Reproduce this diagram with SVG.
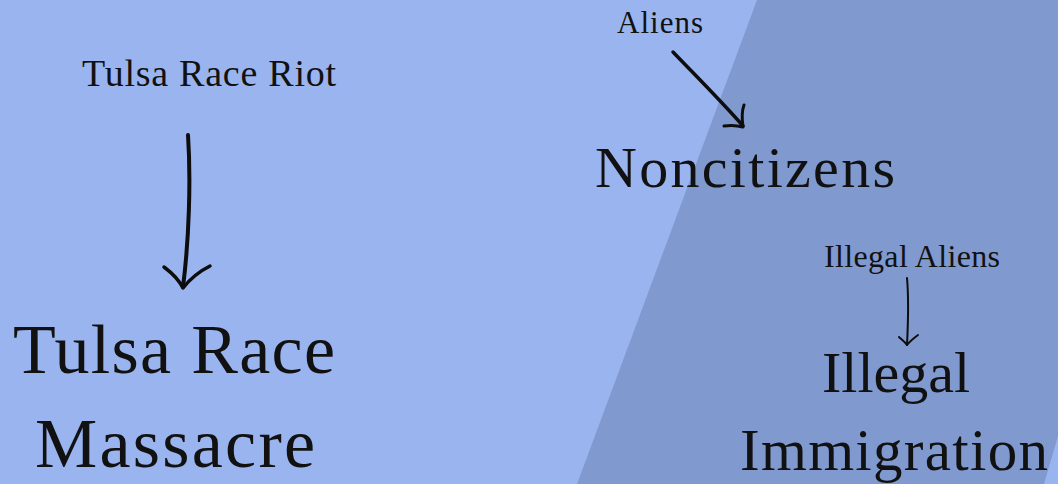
<svg xmlns="http://www.w3.org/2000/svg" width="1058" height="484" viewBox="0 0 1058 484">
  <style>
    .t { font-family: "Liberation Serif", "DejaVu Serif", serif; fill: #111; }
    .arrow { fill: none; stroke: #0d0d0d; stroke-linecap: round; stroke-linejoin: round; }
  </style>
  <rect x="0" y="0" width="1058" height="484" fill="#9ab4f0"/>
  <polygon points="757,0 1058,0 1058,436 1044,484 577,484" fill="#8099cf"/>

  <g id="node-tulsa-riot">
    <text class="t" x="82" y="86" font-size="38" textLength="254">Tulsa Race Riot</text>
  </g>
  <g id="node-tulsa-massacre">
    <text class="t" x="13" y="373" font-size="70" textLength="322">Tulsa Race</text>
    <text class="t" x="35" y="467" font-size="70" textLength="280">Massacre</text>
  </g>
  <g id="node-aliens">
    <text class="t" x="617" y="33" font-size="31" textLength="86">Aliens</text>
  </g>
  <g id="node-noncitizens">
    <text class="t" x="595" y="187" font-size="58" textLength="300">Noncitizens</text>
  </g>
  <g id="node-illegal-aliens">
    <text class="t" x="824" y="267" font-size="32" textLength="176">Illegal Aliens</text>
  </g>
  <g id="node-illegal-immigration">
    <text class="t" x="822" y="392" font-size="58" textLength="148">Illegal</text>
    <text class="t" x="740" y="470" font-size="59" textLength="308">Immigration</text>
  </g>

  <g id="connectors">
    <path class="arrow" stroke-width="4" d="M188,135 C191,180 189,240 183,287"/>
    <path class="arrow" stroke-width="3.5" d="M164,267 C172,273 179,280 183,288 C190,279 200,271 210,266"/>
    <path class="arrow" stroke-width="3.5" d="M673,52 C695,75 722,102 743,126"/>
    <path class="arrow" stroke-width="3" d="M744,105 C741,113 742,120 743,127 C736,125 730,125 724,126"/>
    <path class="arrow" stroke-width="2" d="M907,278 C909,300 908,325 907,345"/>
    <path class="arrow" stroke-width="2" d="M899,337 C902,340 905,342 907,345 C910,341 914,338 918,335"/>
  </g>
</svg>
